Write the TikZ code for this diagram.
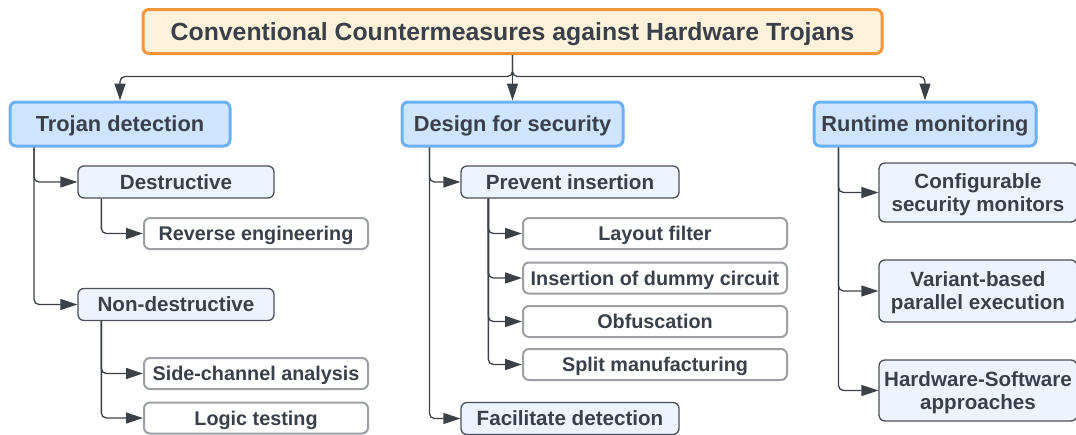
\documentclass[tikz,border=0pt]{standalone}
\usepackage{fontspec}
\setmainfont{Liberation Sans}
\usetikzlibrary{arrows.meta}
\definecolor{txt}{HTML}{394049}
\definecolor{lineclr}{HTML}{3C4047}
\definecolor{titlefill}{HTML}{FFF2DA}
\definecolor{titledraw}{HTML}{F7953A}
\definecolor{catfill}{HTML}{CFE4FF}
\definecolor{catdraw}{HTML}{6CB0F8}
\definecolor{subfill}{HTML}{EDF4FF}
\definecolor{subdraw}{HTML}{4B5058}
\definecolor{leafdraw}{HTML}{9C9FA4}
\begin{document}
\begin{tikzpicture}[x=1pt,y=-1pt,
  every node/.style={text=txt,font=\bfseries,inner sep=0pt,align=center,text depth=0pt},
  titlebox/.style={draw=titledraw,fill=titlefill,line width=3pt,rounded corners=6pt,
    minimum width=739pt,minimum height=44pt,text height=17.8pt,
    font=\bfseries\fontsize{24.8}{28}\selectfont},
  catbox/.style={draw=catdraw,fill=catfill,line width=3pt,rounded corners=6pt,
    minimum height=44pt,text height=15.6pt,font=\bfseries\fontsize{21.8}{24}\selectfont},
  subbox/.style={draw=subdraw,fill=subfill,line width=1.3pt,rounded corners=6pt,
    minimum height=32pt,text height=14.8pt,font=\bfseries\fontsize{20.6}{23}\selectfont},
  twoline/.style={subbox,minimum width=198pt,text height=37.8pt},
  leafbox/.style={draw=leafdraw,fill=white,line width=2pt,rounded corners=6pt,
    minimum height=31pt,text height=14.2pt,font=\bfseries\fontsize{19.8}{22}\selectfont},
  conn/.style={draw=lineclr,line width=1.3pt,rounded corners=5pt,
    -{Triangle[length=17pt,width=11pt]}}]
\useasboundingbox (0,0) rectangle (1076,434);

% root
\node[titlebox] (title) at (512.5,31.5) {Conventional Countermeasures against Hardware Trojans};

% main categories
\node[catbox,minimum width=220pt] (trojan)  at (120,124)   {Trojan detection};
\node[catbox,minimum width=221pt] (design)  at (512.5,124) {Design for security};
\node[catbox,minimum width=222pt] (runtime) at (925,124)   {Runtime monitoring};

% Trojan detection branch
\node[subbox,minimum width=196pt]  (destr)    at (176,182)   {Destructive};
\node[leafbox,minimum width=224pt] (reverse)  at (256,233.5) {Reverse engineering};
\node[subbox,minimum width=196pt]  (nondestr) at (176,304.5) {Non-destructive};
\node[leafbox,minimum width=224pt] (side)     at (256,373.5) {Side-channel analysis};
\node[leafbox,minimum width=224pt] (logic)    at (256,418)   {Logic testing};

% Design for security branch
\node[subbox,minimum width=218pt]  (prevent)  at (570,182)   {Prevent insertion};
\node[leafbox,minimum width=264pt] (layout)   at (655,233.5) {Layout filter};
\node[leafbox,minimum width=264pt] (dummy)    at (655,278)   {Insertion of dummy circuit};
\node[leafbox,minimum width=264pt] (obfus)    at (655,321.5) {Obfuscation};
\node[leafbox,minimum width=264pt] (split)    at (655,364.5) {Split manufacturing};
\node[subbox,minimum width=218pt]  (facil)    at (570,418.5) {Facilitate detection};

% Runtime monitoring branch
\node[twoline,minimum height=59pt] (config)  at (978,192.5) {Configurable\\security monitors};
\node[twoline,minimum height=62pt] (variant) at (978,291)   {Variant-based\\parallel execution};
\node[twoline,minimum height=61pt] (hwsw)    at (978,390.5) {Hardware-Software\\approaches};

% root to categories
\draw[conn] (title.south) -- ++(0,21.5) -| (trojan.north);
\draw[conn] (title.south) -- ++(0,21.5) -| (runtime.north);
\draw[conn,rounded corners=0pt] (title.south) -- (design.north);

% Trojan detection connectors
\draw[conn] (trojan.south west) ++(25.5,0) |- (destr.west);
\draw[conn] (trojan.south west) ++(25.5,0) |- (nondestr.west);
\draw[conn] (destr.south west) ++(24,0) |- (reverse.west);
\draw[conn] (nondestr.south west) ++(24,0) |- (side.west);
\draw[conn] (nondestr.south west) ++(24,0) |- (logic.west);

% Design for security connectors
\draw[conn] (design.south west) ++(29,0) |- (prevent.west);
\draw[conn] (design.south west) ++(29,0) |- (facil.west);
\draw[conn] (prevent.south west) ++(28,0) |- (layout.west);
\draw[conn] (prevent.south west) ++(28,0) |- (dummy.west);
\draw[conn] (prevent.south west) ++(28,0) |- (obfus.west);
\draw[conn] (prevent.south west) ++(28,0) |- (split.west);

% Runtime monitoring connectors
\draw[conn] (runtime.south west) ++(26,0) |- (config.west);
\draw[conn] (runtime.south west) ++(26,0) |- (variant.west);
\draw[conn] (runtime.south west) ++(26,0) |- (hwsw.west);
\end{tikzpicture}
\end{document}
